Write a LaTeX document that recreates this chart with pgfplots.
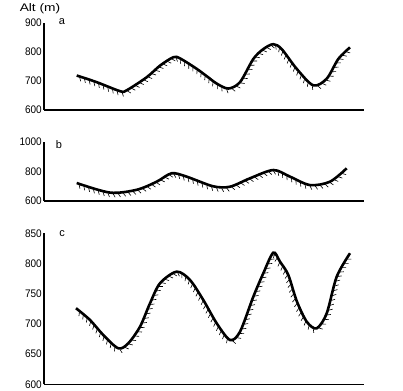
\documentclass[border=0pt]{standalone}
\usepackage{pgfplots}
\pgfplotsset{compat=1.18}
\usepackage{fontspec}
\setmainfont{Liberation Sans}
\usetikzlibrary{decorations.markings}
\tikzset{hach/.style={postaction={decorate,
  decoration={markings, mark=between positions 0.01 and 0.99 step 5pt with {\draw[line width=0.6pt, black] (0pt,-1pt) -- (-65:4.8pt);}}}}}
\pgfplotsset{prof/.style={
  scale only axis, width=320pt, xmin=0, xmax=320,
  axis lines=left, axis line style={-, line width=1.2pt},
  xtick=\empty, major tick length=0pt,
  clip=false,
  /pgf/number format/assume math mode=true,
  /pgf/number format/1000 sep={},
  yticklabel style={font=\fontsize{10}{11}\selectfont, inner sep=2pt, yscale=1.1},
  anchor=south west}}
\begin{document}
\begin{tikzpicture}
\path (0,0) rectangle (403pt,-390pt);
% panel a
\begin{axis}[prof, at={(44pt,-110pt)}, height=87pt, ymin=600, ymax=900, ytick={600,700,800,900}]
\addplot[black, line width=2.6pt, smooth, hach] coordinates {
(32.7,719) (52.7,696) (76,665) (82.7,668) (102.7,713) (116,753) (129.3,782) (136,778)
(152.7,742) (166,708) (172.7,691) (184.3,674) (196,696) (209.3,776) (219.3,810)
(229.3,827) (237.7,810) (252.7,742) (269.3,685) (282.7,708) (294.3,776) (306,816)};
\end{axis}
% panel b
\begin{axis}[prof, at={(44pt,-201pt)}, height=59pt, ymin=600, ymax=1000, ytick={600,800,1000}]
\addplot[black, line width=2.6pt, smooth, hach] coordinates {
(32.7,722) (66,657) (92.7,676) (112.7,731) (127.7,788) (142.7,765) (169,700)
(186,697) (206,754) (229.3,810) (246,765) (266,708) (286,731) (302.7,822)};
\end{axis}
% panel c
\begin{axis}[prof, at={(44pt,-384.3pt)}, height=151pt, ymin=600, ymax=850, ytick={600,650,700,750,800,850}]
\addplot[black, line width=2.6pt, smooth, hach] coordinates {
(32,726) (46,706.5) (59.3,681.6) (74.3,659.6) (84.3,667.9) (96,695.4) (106,734.1)
(116,767.3) (132.7,786.5) (146,772.7) (159.3,739.6) (172.7,701) (186,673.4)
(196,687.1) (209.3,745) (219.3,783.8) (229.3,818) (236,803) (244.3,781)
(252.7,738) (262.7,703.7) (272.7,692.7) (282.7,717.6) (292.7,778.2) (306,817)};
\end{axis}
\node[font=\fontsize{11}{12}\selectfont, xscale=1.25] at (40pt,-9pt) {Alt (m)};
\node[font=\fontsize{11}{12}\selectfont] at (62pt,-22pt) {a};
\node[font=\fontsize{11}{12}\selectfont] at (59pt,-145pt) {b};
\node[font=\fontsize{11}{12}\selectfont] at (62pt,-234pt) {c};
\end{tikzpicture}
\end{document}
